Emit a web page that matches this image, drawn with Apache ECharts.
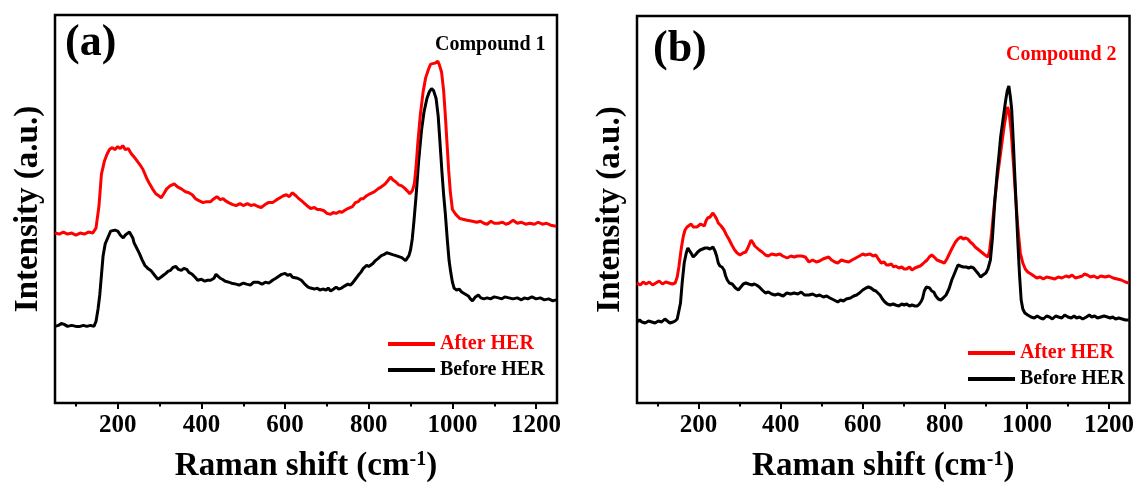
<!DOCTYPE html>
<html>
<head>
<meta charset="utf-8">
<script src="https://cdn.jsdelivr.net/npm/echarts@6/dist/echarts.min.js"></script>
<style>
html,body{margin:0;padding:0;background:#fff;}
#c{width:1137px;height:488px;}
</style>
</head>
<body>
<div id="c"></div>
<script>
// ---- Data (Raman shift cm-1, intensity a.u.) ----
const majorTicks = [200, 400, 600, 800, 1000, 1200];
const minorTicks = [100, 300, 500, 700, 900, 1100];

const afterA = [[50,173],[60,172],[70,174],[80,172],[90,173],[100,171],[110,173],[120,172],[130,174],[140,173],[148,178],[155,200],[161,233],[168,246],[174,253],[180,258],[187,260],[193,258],[200,261],[206,259],[212,262],[218,258],[225,259],[232,254],[240,250],[247,246],[254,242],[260,238],[265,233],[270,228],[275,224],[283,218],[291,213],[298,211],[304,209],[310,213],[317,218],[325,221],[335,223],[343,220],[352,218],[362,215],[370,214],[378,212],[386,208],[394,206],[404,204],[412,205],[422,205],[430,208],[437,210],[445,207],[452,208],[457,206],[465,204],[475,202],[483,201],[492,203],[500,201],[510,203],[518,201],[526,202],[535,200],[543,199],[552,202],[560,204],[570,204],[580,207],[588,209],[596,211],[603,212],[610,210],[617,214],[626,211],[633,208],[639,206],[647,203],[655,200],[661,198],[670,199],[677,197],[683,197],[692,196],[700,193],[709,192],[715,194],[722,193],[730,195],[735,194],[742,196],[750,198],[761,200],[768,204],[775,205],[781,208],[787,208],[795,211],[803,213],[813,215],[822,218],[830,220],[839,223],[845,226],[852,230],[858,227],[865,225],[872,222],[879,221],[885,219],[892,216],[898,213],[904,216],[909,223],[913,240],[917,263],[923,292],[930,317],[936,331],[943,340],[948,345],[952,347],[958,346],[965,348],[969,344],[974,337],[979,318],[983,293],[987,265],[991,237],[995,215],[1000,197],[1008,192],[1017,188],[1025,187],[1035,186],[1048,185],[1058,184],[1067,185],[1075,183],[1083,182],[1092,185],[1100,183],[1110,183],[1120,184],[1128,182],[1135,183],[1145,186],[1155,183],[1165,184],[1175,182],[1185,183],[1196,182],[1205,184],[1215,182],[1225,183],[1235,181],[1248,180]];

const beforeA = [[50,78],[58,79],[65,81],[72,80],[80,78],[90,79],[100,78],[110,78],[118,79],[126,78],[135,79],[143,78],[148,83],[153,96],[157,110],[161,130],[165,150],[170,162],[178,170],[183,175],[187,177],[193,176],[200,175],[206,171],[213,168],[218,171],[222,172],[228,174],[232,173],[236,168],[239,163],[245,158],[252,152],[258,146],[265,140],[272,137],[279,135],[283,133],[290,129],[296,126],[303,128],[309,130],[315,132],[320,134],[326,135],[332,138],[339,139],[345,136],[352,135],[358,137],[365,136],[370,133],[378,131],[385,128],[391,125],[400,126],[408,124],[415,125],[422,125],[430,127],[435,131],[439,130],[445,127],[450,126],[457,124],[465,123],[472,122],[483,121],[490,120],[500,122],[508,121],[517,120],[525,123],[535,123],[545,121],[553,123],[561,122],[570,125],[578,127],[585,129],[592,131],[600,132],[606,130],[612,131],[618,128],[622,129],[630,127],[639,125],[647,121],[655,118],[661,117],[670,116],[677,117],[683,115],[690,116],[698,115],[703,117],[709,114],[716,116],[722,118],[728,116],[735,117],[742,119],[750,121],[756,120],[761,122],[768,126],[775,130],[781,133],[787,137],[795,140],[800,139],[804,140],[810,142],[816,145],[822,147],[830,150],[836,151],[843,153],[850,152],[857,151],[865,150],[872,149],[879,148],[883,147],[888,145],[892,147],[896,150],[900,156],[904,167],[908,185],[913,210],[919,245],[926,277],[932,296],[939,310],[945,317],[950,320],[955,318],[961,310],[966,292],[970,267],[975,235],[979,212],[983,193],[988,165],[992,145],[996,133],[1000,123],[1004,117],[1010,115],[1016,116],[1022,113],[1030,111],[1038,109],[1043,106],[1048,104],[1055,108],[1062,110],[1068,107],[1075,106],[1083,107],[1091,106],[1100,108],[1110,107],[1118,106],[1125,108],[1135,107],[1145,106],[1155,107],[1165,105],[1172,107],[1180,106],[1190,108],[1200,106],[1210,107],[1220,105],[1230,106],[1240,104],[1248,105]];

const afterB = [[50,120],[58,118],[65,121],[72,119],[80,121],[88,118],[96,120],[104,122],[112,119],[120,121],[128,120],[136,119],[143,120],[148,126],[152,136],[158,155],[163,167],[167,173],[172,176],[176,178],[182,179],[187,176],[191,178],[196,176],[200,177],[205,179],[209,180],[214,177],[218,182],[222,185],[228,186],[235,190],[240,187],[244,184],[248,180],[255,177],[262,173],[268,168],[275,163],[281,158],[288,153],[294,150],[301,148],[308,150],[315,151],[320,155],[325,160],[328,163],[333,160],[337,157],[341,155],[348,153],[355,151],[363,148],[370,147],[378,149],[389,148],[398,149],[405,147],[416,145],[425,147],[433,146],[441,147],[451,147],[460,146],[469,141],[478,143],[487,141],[495,142],[503,144],[510,145],[517,146],[524,143],[532,141],[539,140],[548,143],[555,142],[566,141],[574,143],[583,145],[592,147],[600,149],[606,148],[610,150],[618,149],[625,147],[632,148],[638,144],[645,140],[652,141],[658,138],[663,138],[670,139],[675,136],[680,137],[688,135],[695,136],[701,134],[707,134],[714,136],[720,133],[727,135],[733,136],[740,137],[746,139],[751,141],[757,143],[762,146],[768,148],[774,146],[781,143],[787,142],[793,141],[799,140],[805,144],[812,150],[818,155],[826,161],[832,164],[839,166],[845,164],[851,165],[856,164],[862,161],[868,159],[874,156],[880,154],[886,152],[892,150],[898,148],[905,146],[909,152],[914,170],[920,196],[927,223],[934,244],[940,263],[945,278],[950,290],[953,296],[957,290],[962,270],[967,240],[973,203],[978,175],[984,150],[990,140],[996,134],[1002,131],[1010,129],[1017,127],[1024,125],[1032,126],[1040,124],[1048,126],[1059,125],[1068,124],[1076,126],[1085,125],[1095,127],[1103,126],[1110,128],[1118,125],[1127,126],[1135,127],[1140,129],[1147,128],[1155,126],[1163,127],[1172,125],[1180,127],[1191,126],[1200,127],[1210,125],[1220,124],[1230,123],[1240,121],[1248,120]];

const beforeB = [[50,81],[56,83],[62,81],[70,80],[78,82],[86,81],[94,80],[102,82],[110,81],[118,84],[124,82],[130,80],[138,81],[143,82],[148,84],[152,86],[156,100],[160,120],[165,140],[170,150],[174,155],[178,153],[183,149],[187,146],[192,148],[198,151],[204,153],[210,154],[216,155],[222,155],[228,154],[235,156],[240,152],[244,147],[248,140],[252,137],[257,136],[262,133],[266,127],[270,123],[275,120],[282,119],[290,115],[297,113],[303,116],[309,119],[315,120],[322,119],[330,118],[336,119],[341,118],[348,116],[355,113],[363,110],[370,111],[378,109],[386,108],[394,109],[398,108],[406,107],[415,110],[424,109],[433,110],[442,109],[450,111],[458,108],[469,108],[478,109],[487,107],[495,108],[504,106],[512,107],[520,105],[530,103],[539,101],[546,103],[553,102],[560,104],[570,105],[578,107],[585,108],[592,110],[600,113],[608,115],[614,116],[620,115],[626,113],[632,112],[636,111],[642,108],[648,104],[654,101],[660,99],[667,98],[674,99],[680,98],[688,97],[695,99],[701,98],[707,99],[714,97],[720,98],[727,97],[733,97],[738,99],[743,102],[746,105],[750,112],[755,116],[759,116],[763,115],[768,112],[773,111],[778,107],[784,104],[790,103],[796,105],[803,108],[810,114],[817,123],[824,130],[832,138],[838,137],[845,136],[852,136],[858,135],[864,136],[870,135],[876,132],[882,129],[887,126],[893,128],[900,130],[905,134],[911,143],[916,165],[922,203],[928,232],[932,248],[936,266],[940,278],[944,290],[948,302],[952,312],[956,317],[960,305],[963,293],[967,260],[970,232],[974,196],[978,160],[982,128],[986,103],[990,94],[995,90],[1002,88],[1010,86],[1018,85],[1025,87],[1033,85],[1040,84],[1048,87],[1055,86],[1062,84],[1070,87],[1077,86],[1085,85],[1092,88],[1100,86],[1108,85],[1115,87],[1121,85],[1128,86],[1136,84],[1145,86],[1152,88],[1158,86],[1165,87],[1172,85],[1180,86],[1188,87],[1196,86],[1203,85],[1209,86],[1216,84],[1224,85],[1232,84],[1240,83],[1248,83]];

const xTitle = 'Raman shift (cm{sup|-1})';
const yTitle = 'Intensity (a.u.)';
const RED = '#ff0000';
const FONT = '"Liberation Serif", "Times New Roman", serif';

// ---- Chart ----
const chart = echarts.init(document.getElementById('c'), null, {renderer: 'canvas'});

function xAxes(gi) {
  return [
    {
      gridIndex: gi, type: 'value', min: 50, max: 1250, position: 'bottom',
      name: xTitle, nameLocation: 'middle', nameGap: 47,
      nameTextStyle: {fontFamily: FONT, fontWeight: 'bold', fontSize: 33, color: '#000',
        rich: {sup: {fontFamily: FONT, fontWeight: 'bold', fontSize: 20, color: '#000', verticalAlign: 'top'}}},
      axisLine: {show: false},
      splitLine: {show: false},
      axisTick: {show: true, inside: false, length: 6, lineStyle: {color: '#000', width: 2}, customValues: majorTicks},
      axisLabel: {show: true, margin: 10, fontFamily: FONT, fontWeight: 'bold', fontSize: 25, color: '#000',
        customValues: majorTicks, formatter: function (v) { return String(v); }}
    },
    {
      gridIndex: gi, type: 'value', min: 50, max: 1250, position: 'bottom',
      axisLine: {show: false},
      splitLine: {show: false},
      axisTick: {show: true, inside: false, length: 3.5, lineStyle: {color: '#000', width: 2}, customValues: minorTicks},
      axisLabel: {show: false}
    }
  ];
}

function yAxis(gi, max) {
  return {
    gridIndex: gi, type: 'value', min: 0, max: max,
    name: yTitle, nameLocation: 'middle', nameGap: 10,
    nameTextStyle: {fontFamily: FONT, fontWeight: 'bold', fontSize: 33, color: '#000'},
    axisLine: {show: false}, axisTick: {show: false}, axisLabel: {show: false}, splitLine: {show: false}
  };
}

function line(name, gi, data, color, z) {
  return {
    name: name, type: 'line', xAxisIndex: gi * 2, yAxisIndex: gi, data: data,
    symbol: 'none', showSymbol: false, smooth: false, z: z,
    lineStyle: {color: color, width: 3}, itemStyle: {color: color}
  };
}

function legend(left, top) {
  return {
    orient: 'vertical', left: left, top: top, padding: 0, itemWidth: 47, itemHeight: 4, itemGap: 6,
    icon: 'rect',
    textStyle: {fontFamily: FONT, fontWeight: 'bold', fontSize: 20},
    data: [
      {name: 'After HER', textStyle: {color: RED}},
      {name: 'Before HER', textStyle: {color: '#000'}}
    ]
  };
}

const titleStyle = {fontFamily: FONT, fontWeight: 'bold', color: '#000'};

const option = {
  animation: false,
  backgroundColor: '#fff',
  title: [
    {text: '(a)', left: 60, top: 17, textStyle: Object.assign({}, titleStyle, {fontSize: 44})},
    {text: 'Compound 1', left: 430, top: 30, textStyle: Object.assign({}, titleStyle, {fontSize: 20})},
    {text: '(b)', left: 648, top: 23, textStyle: Object.assign({}, titleStyle, {fontSize: 44})},
    {text: 'Compound 2', left: 1001, top: 40, textStyle: Object.assign({}, titleStyle, {fontSize: 20, color: RED})}
  ],
  legend: [legend(388, 334), legend(968, 343)],
  grid: [
    {left: 55, top: 15, width: 502, height: 395, show: true, borderColor: '#000', borderWidth: 2.5, backgroundColor: 'transparent'},
    {left: 637, top: 16, width: 493, height: 387, show: true, borderColor: '#000', borderWidth: 2.5, backgroundColor: 'transparent'}
  ],
  xAxis: xAxes(0).concat(xAxes(1)),
  yAxis: [yAxis(0, 395), yAxis(1, 387)],
  series: [
    line('After HER', 0, afterA, RED, 3),
    line('Before HER', 0, beforeA, '#000', 2),
    line('After HER', 1, afterB, RED, 2),
    line('Before HER', 1, beforeB, '#000', 3)
  ]
};
chart.setOption(option);
</script>
</body>
</html>
